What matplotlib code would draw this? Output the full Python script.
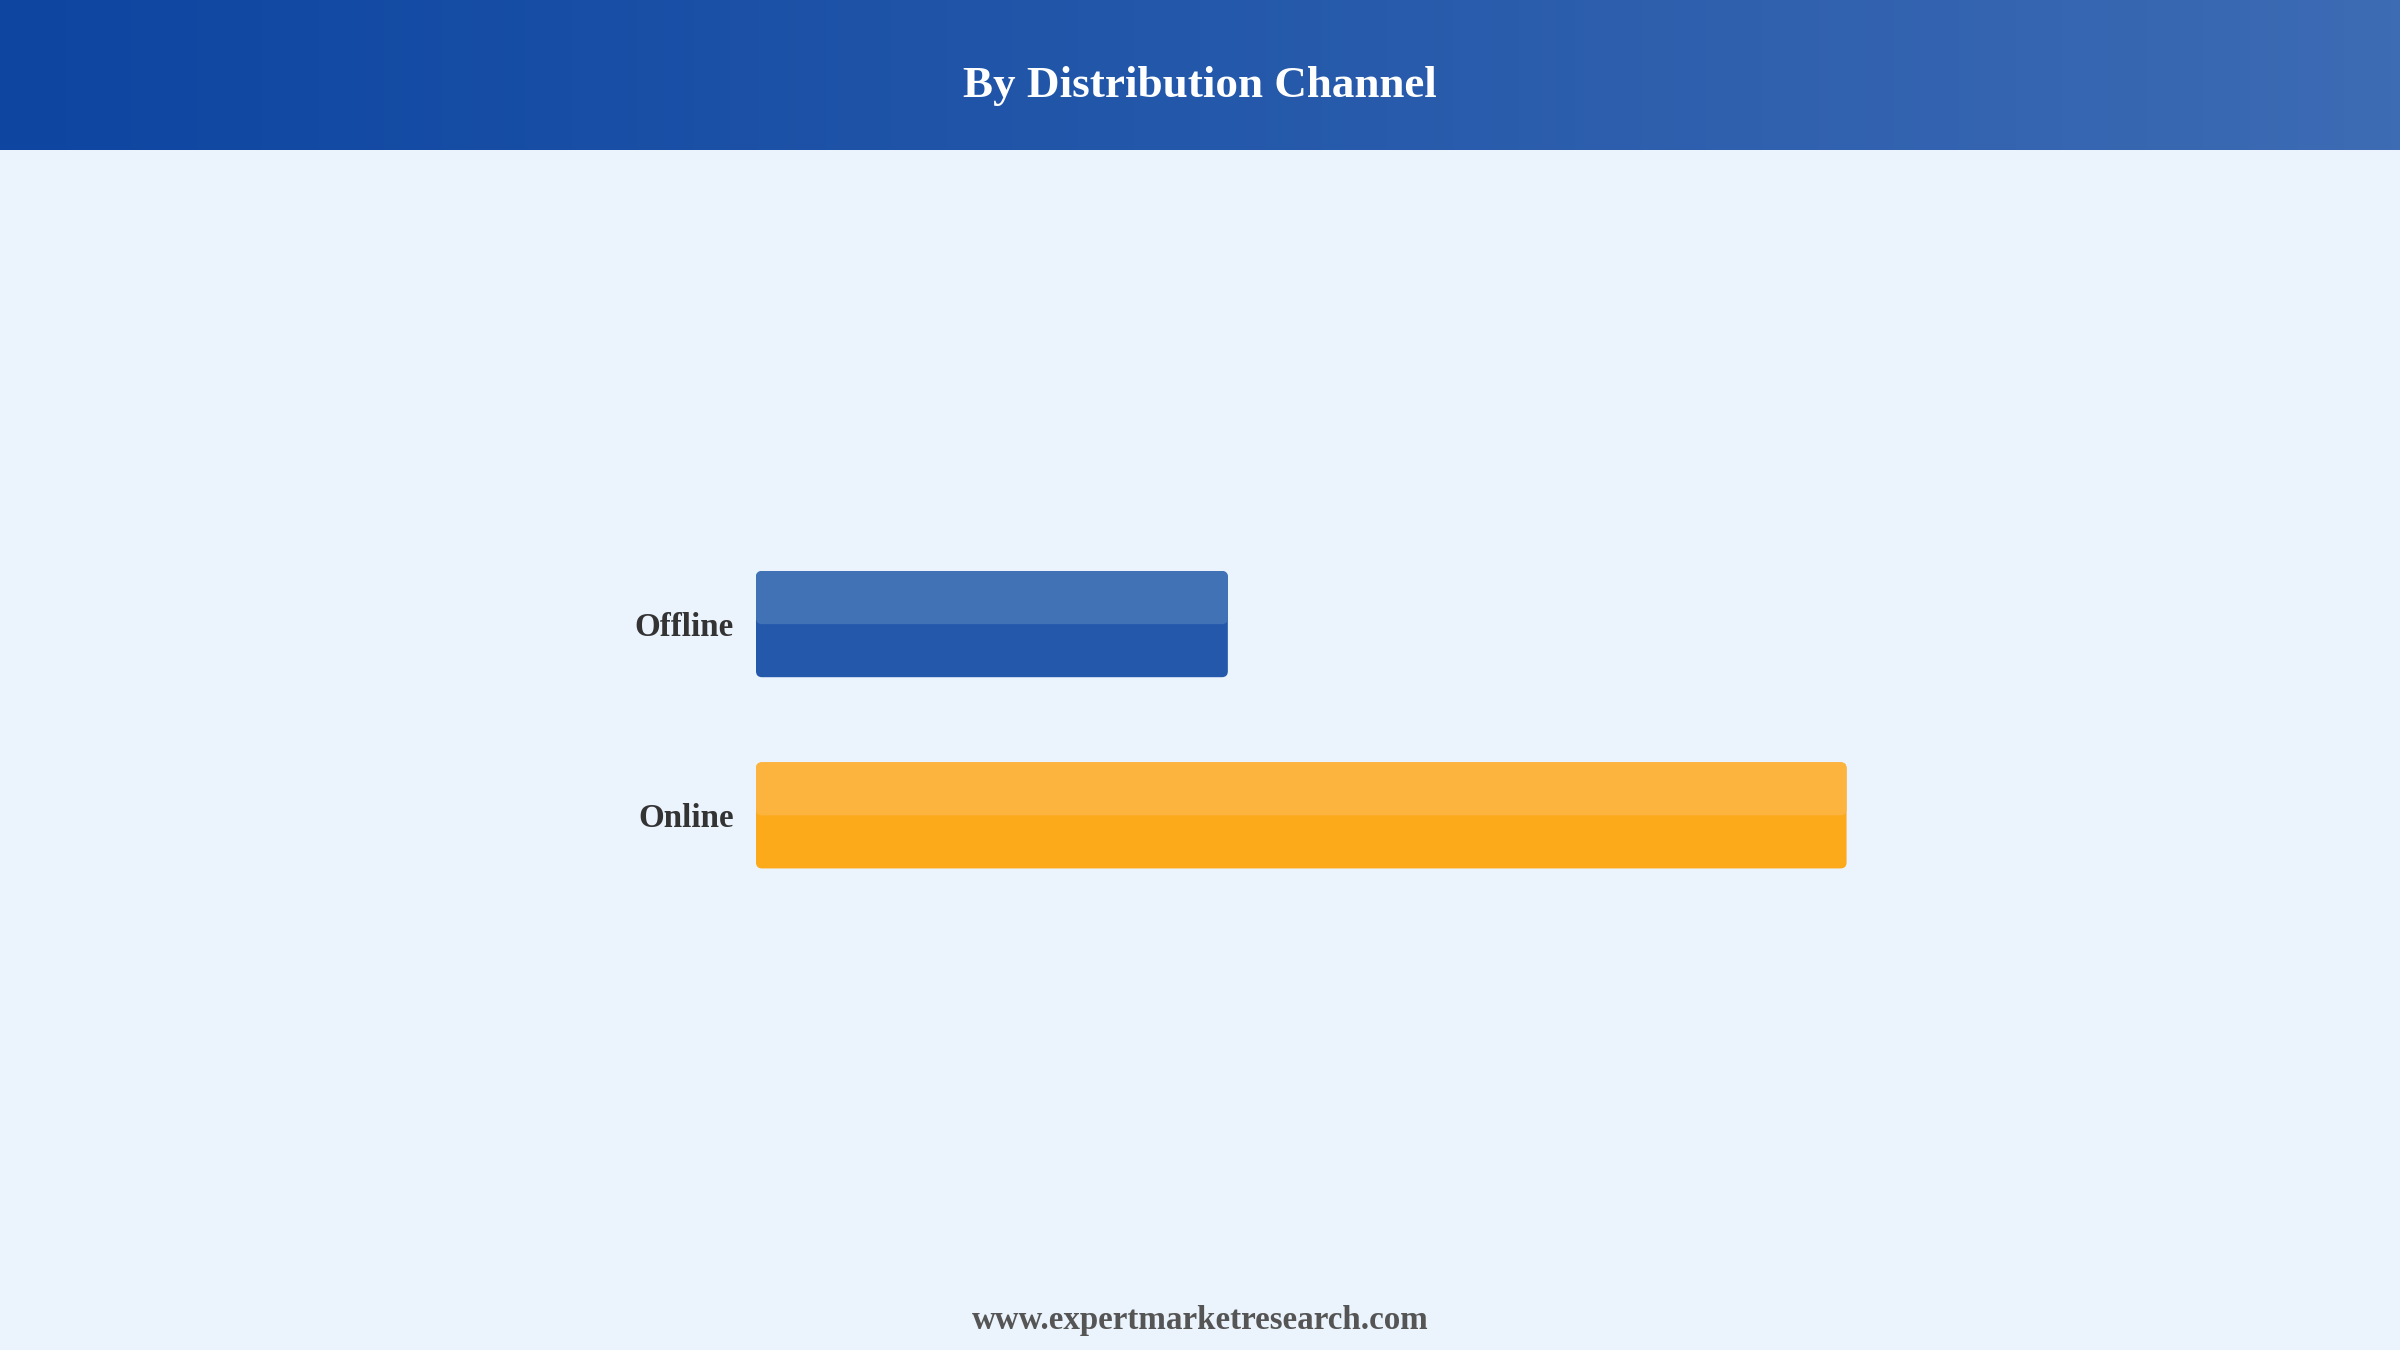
import numpy as np
import matplotlib.pyplot as plt
from matplotlib.patches import FancyBboxPatch
from matplotlib.colors import LinearSegmentedColormap

categories = ['Offline', 'Online']
values = [30.2, 69.8]
colors_dark = ['#2458AA', '#FCA91A']
colors_light = ['#4272B6', '#FCB43E']

plt.rcParams['font.family'] = ['Liberation Serif', 'DejaVu Serif']

fig = plt.figure(figsize=(24, 13.5), dpi=100)
fig.patch.set_facecolor('#EBF3FC')

# header band with horizontal gradient
hdr = fig.add_axes([0, 1 - 150 / 1350, 1, 150 / 1350])
grad = np.linspace(0, 1, 256).reshape(1, -1)
cmap = LinearSegmentedColormap.from_list('hdr', ['#0D45A1', '#2458AA', '#3D6BB4'])
hdr.imshow(grad, aspect='auto', cmap=cmap, extent=[0, 1, 0, 1])
hdr.set_axis_off()
hdr.text(0.5, 0.43, 'By Distribution Channel', color='white', fontsize=32.5,
         fontweight='bold', ha='center', va='center', transform=hdr.transAxes)

ax = fig.add_axes([0.315, 0.3252, 0.651, 0.2833])
ax.set_facecolor('none')
bars = ax.barh(categories, values, height=0.555, color='none')
ax.set_xlim(0, 100)
ax.set_ylim(1.5, -0.5)

# pixel scale for rounded corners
xpx = 0.651 * 2400 / 100
ypx = 0.2833 * 1350 / 2.0
aspect = xpx / ypx
r = 6 / xpx

for b, cd, cl in zip(bars, colors_dark, colors_light):
    x0, y0, w, h = b.get_x(), b.get_y(), b.get_width(), b.get_height()
    ax.add_patch(FancyBboxPatch((x0, y0), w, h,
                                boxstyle='round,pad=0,rounding_size=%f' % r,
                                mutation_aspect=aspect, fc=cd, ec='none'))
    ax.add_patch(FancyBboxPatch((x0, y0), w, h / 2,
                                boxstyle='round,pad=0,rounding_size=%f' % r,
                                mutation_aspect=aspect, fc=cl, ec='none'))

ax.set_xticks([])
ax.tick_params(axis='y', length=0, pad=16, labelsize=23.8, labelcolor='#333333')
for lab in ax.get_yticklabels():
    lab.set_fontweight('bold')
for s in ax.spines.values():
    s.set_visible(False)

fig.text(0.5, 1 - 1320 / 1350, 'www.expertmarketresearch.com', ha='center',
         va='center', fontsize=23.8, fontweight='bold', color='#555555')

fig.savefig('out.png', dpi=100, facecolor=fig.get_facecolor())
